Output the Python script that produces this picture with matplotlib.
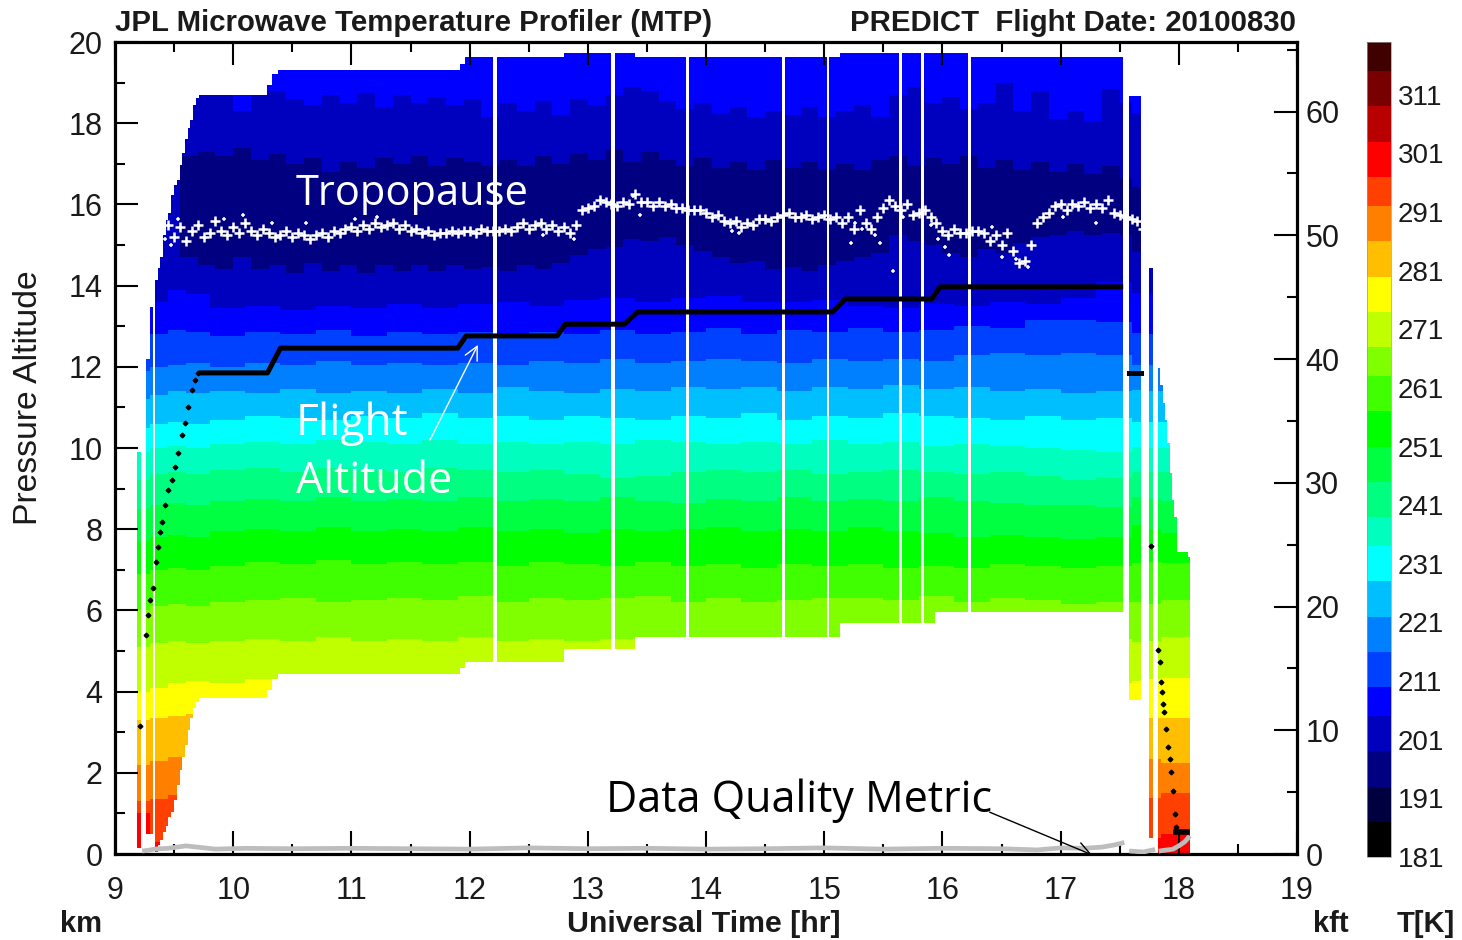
import numpy as np
import matplotlib
matplotlib.use("Agg")
import matplotlib.pyplot as plt
from matplotlib.colors import ListedColormap, BoundaryNorm
from matplotlib.ticker import MultipleLocator
from matplotlib.cm import ScalarMappable

W, H = 1462, 940

# colour scale, coldest first
t_edges = [181, 187, 193, 199, 205, 210, 216, 222, 228, 234, 239, 245, 251, 257,
           263, 268, 274, 280, 286, 292, 297, 303, 309, 315, 320]
t_colors = ["#000000", "#000040", "#000080", "#0000bf", "#0000ff", "#0040ff", "#0080ff", "#00bfff",
            "#00ffff", "#00ffbf", "#00ff80", "#00ff40", "#00ff00", "#40ff00", "#80ff00", "#bfff00",
            "#ffff00", "#ffbf00", "#ff8000", "#ff4000", "#ff0000", "#b80000", "#780000", "#400000"]
t_ticks = [181, 191, 201, 211, 221, 231, 241, 251, 261, 271, 281, 291, 301, 311]

# colour band of each layer going up from the ground (index into t_colors)
layer_band = [20, 19, 18, 17, 16, 15, 14, 13, 12, 11, 10, 9, 8, 7, 6, 5, 4, 3, 2, 3, 4]

# altitude (km) of the boundaries between layers, read at these times
band_t = [9.2, 9.3, 9.45, 9.6, 9.8, 10.1, 10.4, 10.7, 11.0, 11.3, 11.6, 11.9, 12.2, 12.5, 12.8, 13.1, 13.4,
          13.7, 14.0, 14.3, 14.6, 14.9, 15.2, 15.5, 15.8, 16.1, 16.4, 16.7, 17.0, 17.3, 17.6, 17.75, 17.85]
b00 = [1.0, 0.3, 0.0, 0.0, 0.0, 0.0, 0.0, 0.0, 0.0, 0.0, 0.0, 0.0, 0.0, 0.0, 0.0, 0.0, 0.0,
       0.0, 0.0, 0.0, 0.0, 0.0, 0.0, 0.0, 0.0, 0.0, 0.0, 0.0, 0.0, 0.0, 0.5, 0.4, 0.5]
b01 = [1.3, 1.35, 1.45, 1.5, 1.45, 1.4, 1.4, 1.4, 1.4, 1.4, 1.4, 1.4, 1.4, 1.4, 1.4, 1.4, 1.4,
       1.4, 1.4, 1.4, 1.4, 1.4, 1.4, 1.4, 1.4, 1.4, 1.4, 1.4, 1.4, 1.4, 1.4, 1.38, 1.5]
b02 = [2.2, 2.3, 2.4, 2.45, 2.4, 2.4, 2.4, 2.4, 2.4, 2.4, 2.4, 2.4, 2.4, 2.4, 2.4, 2.4, 2.4,
       2.4, 2.4, 2.4, 2.4, 2.4, 2.4, 2.4, 2.4, 2.4, 2.4, 2.4, 2.4, 2.4, 2.3, 2.36, 2.24]
b03 = [3.3, 3.35, 3.4, 3.45, 3.4, 3.45, 3.4, 3.4, 3.4, 3.4, 3.4, 3.4, 3.4, 3.4, 3.4, 3.4, 3.4,
       3.4, 3.4, 3.4, 3.4, 3.4, 3.4, 3.4, 3.4, 3.4, 3.4, 3.4, 3.4, 3.4, 3.35, 3.35, 3.35]
b04 = [4.0, 4.1, 4.2, 4.25, 4.2, 4.3, 4.2, 4.2, 4.2, 4.2, 4.2, 4.2, 4.2, 4.2, 4.2, 4.2, 4.2,
       4.2, 4.2, 4.2, 4.2, 4.2, 4.2, 4.2, 4.2, 4.2, 4.2, 4.2, 4.2, 4.2, 4.24, 4.3, 4.33]
b05 = [5.1, 5.2, 5.25, 5.2, 5.25, 5.3, 5.25, 5.35, 5.25, 5.3, 5.25, 5.35, 5.25, 5.3, 5.25, 5.3, 5.25,
       5.3, 5.25, 5.3, 5.25, 5.3, 5.25, 5.3, 5.25, 5.3, 5.25, 5.3, 5.25, 5.3, 5.22, 5.25, 5.34]
b06 = [6.0, 6.1, 6.15, 6.1, 6.2, 6.25, 6.3, 6.2, 6.25, 6.3, 6.25, 6.35, 6.2, 6.3, 6.25, 6.3, 6.35,
       6.2, 6.3, 6.2, 6.25, 6.3, 6.3, 6.25, 6.35, 6.2, 6.3, 6.25, 6.15, 6.2, 6.2, 6.15, 6.26]
b07 = [6.9, 7.0, 7.05, 7.0, 7.1, 7.2, 7.15, 7.25, 7.15, 7.2, 7.15, 7.2, 7.1, 7.2, 7.15, 7.1, 7.2,
       7.1, 7.15, 7.05, 7.15, 7.1, 7.15, 7.05, 7.1, 7.05, 7.15, 7.1, 7.05, 7.1, 7.17, 7.2, 7.17]
b08 = [7.7, 7.8, 7.85, 7.8, 7.95, 8.0, 7.95, 8.05, 7.95, 8.0, 7.95, 8.05, 7.95, 8.0, 7.9, 8.0, 7.95,
       8.0, 8.05, 7.95, 8.0, 7.95, 8.05, 7.95, 7.9, 7.8, 7.85, 7.8, 7.75, 7.8, 8.1, 8.0, 7.9]
b09 = [8.5, 8.6, 8.65, 8.6, 8.7, 8.75, 8.7, 8.8, 8.7, 8.75, 8.7, 8.8, 8.7, 8.75, 8.7, 8.8, 8.7,
       8.65, 8.75, 8.7, 8.8, 8.7, 8.75, 8.7, 8.8, 8.7, 8.65, 8.6, 8.6, 8.55, 8.79, 8.75, 8.7]
b10 = [9.2, 9.35, 9.4, 9.35, 9.45, 9.5, 9.4, 9.5, 9.45, 9.4, 9.5, 9.45, 9.4, 9.45, 9.35, 9.25, 9.3,
       9.4, 9.45, 9.4, 9.45, 9.35, 9.4, 9.45, 9.4, 9.35, 9.4, 9.3, 9.2, 9.25, 9.41, 9.4, 9.4]
b11 = [9.9, 10.0, 10.05, 10.0, 10.1, 10.15, 10.1, 10.2, 10.15, 10.1, 10.2, 10.1, 10.15, 10.1, 10.15, 10.1, 10.2,
       10.15, 10.1, 10.15, 10.1, 10.2, 10.1, 10.15, 10.05, 10.1, 10.05, 10.0, 9.95, 9.9, 10.02, 10.0, 10.0]
b12 = [10.5, 10.6, 10.65, 10.6, 10.7, 10.8, 10.75, 10.7, 10.8, 10.75, 10.85, 10.75, 10.8, 10.7, 10.8, 10.75, 10.7,
       10.8, 10.75, 10.85, 10.7, 10.8, 10.75, 10.85, 10.8, 10.75, 10.7, 10.8, 10.7, 10.75, 10.64, 10.65, 10.65]
b13 = [11.2, 11.3, 11.4, 11.35, 11.4, 11.35, 11.45, 11.35, 11.4, 11.35, 11.45, 11.35, 11.5, 11.4, 11.35, 11.45, 11.4,
       11.5, 11.45, 11.5, 11.4, 11.5, 11.45, 11.55, 11.45, 11.5, 11.4, 11.45, 11.35, 11.4, 11.43, 11.4, 11.4]
b14 = [11.9, 12.0, 12.05, 12.1, 12.0, 12.1, 12.05, 12.15, 12.05, 12.1, 12.05, 12.1, 12.05, 12.15, 12.1, 12.2, 12.1,
       12.15, 12.2, 12.15, 12.1, 12.2, 12.15, 12.2, 12.15, 12.3, 12.35, 12.3, 12.35, 12.3, 12.04, 12.05, 12.05]
b15 = [12.6, 12.8, 12.9, 12.85, 12.75, 12.85, 12.8, 12.9, 12.75, 12.85, 12.8, 12.85, 12.75, 12.85, 12.8, 12.9, 12.8,
       12.85, 12.95, 12.8, 12.9, 12.85, 12.95, 12.85, 12.9, 13.0, 12.95, 13.15, 13.15, 13.1, 12.83, 12.8, 12.8]
b16 = [13.2, 13.6, 13.9, 13.8, 13.45, 13.5, 13.4, 13.5, 13.45, 13.55, 13.45, 13.55, 13.6, 13.5, 13.65, 13.7, 13.6,
       13.7, 13.75, 13.6, 13.6, 13.65, 13.5, 13.45, 13.55, 13.5, 13.6, 13.55, 13.7, 14.1, 13.82, 13.8, 13.7]
low_edges = [b00, b01, b02, b03, b04, b05, b06, b07, b08, b09, b10, b11, b12, b13, b14, b15, b16]

# the upper three boundaries are more jagged, so read at more times
fine_t = [9.2, 9.4, 9.55, 9.7, 9.85, 10.0, 10.15, 10.3, 10.45, 10.6, 10.75, 10.9, 11.05, 11.2, 11.35, 11.5, 11.65,
          11.8, 11.95, 12.1, 12.25, 12.4, 12.55, 12.7, 12.85, 13.0, 13.15, 13.3, 13.45, 13.6, 13.75, 13.9, 14.05,
          14.2, 14.35, 14.5, 14.65, 14.8, 14.95, 15.1, 15.25, 15.4, 15.55, 15.7, 15.85, 16.0, 16.15, 16.3, 16.45,
          16.6, 16.75, 16.9, 17.05, 17.2, 17.35, 17.5, 17.6]
b17 = [15.0, 15.0, 14.7, 14.5, 14.4, 14.7, 14.4, 14.5, 14.3, 14.55, 14.35, 14.5, 14.3, 14.5, 14.35, 14.5, 14.35,
       14.5, 14.4, 14.45, 14.35, 14.5, 14.4, 14.55, 14.75, 14.9, 14.95, 15.15, 15.1, 15.2, 15.0, 14.85, 14.7,
       14.55, 14.6, 14.4, 14.45, 14.35, 14.5, 14.6, 14.7, 14.8, 15.25, 15.1, 15.0, 14.8, 14.7, 14.9, 14.8,
       15.05, 15.2, 15.25, 15.35, 15.25, 15.3, 15.25, 14.83]
b18 = [15.0, 15.0, 17.2, 17.3, 17.2, 17.4, 17.1, 17.25, 17.0, 17.15, 16.8, 17.05, 16.9, 17.15, 17.0, 17.2, 16.95,
       17.15, 17.05, 16.95, 17.1, 16.95, 17.2, 17.0, 17.25, 17.1, 17.35, 17.05, 17.3, 17.1, 16.95, 17.15, 16.9,
       17.05, 16.85, 17.1, 16.9, 17.05, 16.85, 17.0, 16.85, 17.1, 17.2, 16.95, 17.15, 17.0, 17.2, 16.9, 17.1,
       16.85, 17.05, 16.8, 17.0, 16.75, 16.95, 16.65, 16.43]
b19 = [19.5, 19.5, 19.5, 18.8, 18.8, 18.3, 18.8, 18.8, 18.6, 18.45, 18.7, 18.5, 18.75, 18.4, 18.7, 18.5, 18.65,
       18.45, 18.6, 18.15, 18.5, 18.3, 18.55, 18.2, 18.6, 18.45, 18.7, 18.9, 18.8, 18.55, 18.35, 18.5, 18.25,
       18.4, 18.15, 18.3, 18.2, 18.4, 18.15, 18.3, 18.45, 18.15, 18.7, 18.9, 18.5, 18.65, 18.35, 18.5, 19.0,
       18.3, 18.8, 18.1, 18.3, 18.05, 18.85, 18.5, 18.25]
high_edges = [b17, b18, b19]

# top and bottom of the retrieved profile, each entry holds until the next time (nan = no data)
col_t = [9.19, 9.22, 9.265, 9.295, 9.32, 9.338, 9.364, 9.381, 9.406, 9.431, 9.448, 9.474, 9.499, 9.525, 9.55,
         9.567, 9.592, 9.618, 9.635, 9.66, 9.685, 9.711, 10.286, 10.33, 10.38, 11.92, 11.96, 12.2, 12.23, 12.8,
         13.2, 13.23, 13.4, 13.83, 13.855, 14.64, 14.665, 15.02, 15.04, 15.13, 15.63, 15.655, 15.82, 15.845, 15.94,
         16.22, 16.245, 17.528, 17.579, 17.68, 17.748, 17.782, 17.824, 17.84, 17.866, 17.883, 17.9, 17.925, 17.94,
         17.96, 17.985, 18.078, 18.095]
col_top = [9.9, np.nan, 12.2, 13.47, np.nan, 14.14, 14.43, 14.7, 15.25, 15.62, 15.79, 16.23, 16.48, 16.6, 16.97,
           17.27, 17.59, 17.88, 18.08, 18.45, 18.62, 18.69, 18.94, 19.19, 19.29, 19.46, 19.63, np.nan, 19.63, 19.73,
           np.nan, 19.73, 19.63, np.nan, 19.63, np.nan, 19.63, np.nan, 19.63, 19.73, np.nan, 19.73, np.nan, 19.73, 19.73,
           np.nan, 19.63, np.nan, 18.67, np.nan, 14.43, np.nan, 11.97, 11.55, 11.11, 10.69, 10.12, 9.38, 8.72,
           8.3, 7.44, 7.32, np.nan]
col_bot = [0.15, np.nan, 0.5, 0.5, np.nan, 0.05, 0.22, 0.34, 0.54, 0.71, 0.89, 1.03, 1.33, 1.7, 2.07,
           2.39, 2.68, 3.05, 3.35, 3.6, 3.74, 3.84, 4.04, 4.29, 4.43, 4.58, 4.73, np.nan, 4.73, 5.05,
           np.nan, 5.05, 5.34, np.nan, 5.34, np.nan, 5.34, np.nan, 5.34, 5.69, np.nan, 5.69, np.nan, 5.69, 5.96,
           np.nan, 5.96, np.nan, 3.79, np.nan, 0.39, np.nan, 0.03, 0.03, 0.03, 0.03, 0.03, 0.03, 0.03,
           0.03, 0.03, 0.03, np.nan]

# flight altitude
flight_t = [9.71, 10.29, 10.4, 11.9, 11.97, 12.74, 12.81, 13.31, 13.42, 15.07, 15.18, 15.91, 15.98, 17.53]
flight_km = [11.85, 11.85, 12.46, 12.46, 12.76, 12.76, 13.05, 13.05, 13.35, 13.35, 13.67, 13.67, 13.97, 13.97]
climb_t = [9.21, 9.262, 9.28, 9.296, 9.321, 9.347, 9.364, 9.381, 9.398, 9.423, 9.448, 9.482, 9.508, 9.533, 9.567,
           9.592, 9.618, 9.651, 9.677, 9.702, 17.765, 17.82, 17.84, 17.85, 17.86, 17.87, 17.875, 17.89, 17.91,
           17.925, 17.935, 17.95, 17.97, 17.975]
climb_km = [3.15, 5.39, 5.89, 6.26, 6.55, 7.19, 7.56, 7.93, 8.18, 8.6, 8.97, 9.21, 9.53, 9.88, 10.32,
            10.62, 11.01, 11.43, 11.67, 11.85, 7.59, 5.02, 4.73, 4.24, 3.99, 3.69, 3.5, 3.08, 2.64,
            2.34, 2.02, 1.55, 0.99, 0.67]
hold1_t = [17.58, 17.68]
hold1_km = [11.85, 11.85]
hold2_t = [17.98, 18.07]
hold2_km = [0.54, 0.54]

# tropopause
trop_t = [9.45, 9.5, 9.55, 9.6, 9.65, 9.7, 9.75, 9.8, 9.85, 9.9, 9.95,
          10.0, 10.05, 10.1, 10.15, 10.2, 10.25, 10.3, 10.35, 10.4, 10.45,
          10.5, 10.55, 10.6, 10.65, 10.7, 10.75, 10.8, 10.85, 10.9, 10.95,
          11.0, 11.05, 11.1, 11.15, 11.2, 11.25, 11.3, 11.35, 11.4, 11.45,
          11.5, 11.55, 11.6, 11.65, 11.7, 11.75, 11.8, 11.85, 11.9, 11.95,
          12.0, 12.05, 12.1, 12.15, 12.2, 12.25, 12.3, 12.35, 12.4, 12.45,
          12.5, 12.55, 12.6, 12.65, 12.7, 12.75, 12.8, 12.85, 12.9, 12.95,
          13.0, 13.05, 13.1, 13.15, 13.2, 13.25, 13.3, 13.35, 13.4, 13.45,
          13.5, 13.55, 13.6, 13.65, 13.7, 13.75, 13.8, 13.85, 13.9, 13.95,
          14.0, 14.05, 14.1, 14.15, 14.2, 14.25, 14.3, 14.35, 14.4, 14.45,
          14.5, 14.55, 14.6, 14.65, 14.7, 14.75, 14.8, 14.85, 14.9, 14.95,
          15.0, 15.05, 15.1, 15.15, 15.2, 15.25, 15.3, 15.35, 15.4, 15.45,
          15.5, 15.55, 15.6, 15.65, 15.7, 15.75, 15.8, 15.85, 15.9, 15.95,
          16.0, 16.05, 16.1, 16.15, 16.2, 16.25, 16.3, 16.35, 16.4, 16.45,
          16.5, 16.55, 16.6, 16.65, 16.7, 16.75, 16.8, 16.85, 16.9, 16.95,
          17.0, 17.05, 17.1, 17.15, 17.2, 17.25, 17.3, 17.35, 17.4, 17.45,
          17.5, 17.55, 17.6, 17.65, 17.7]
trop_km = [15.5, 15.2, 15.45, 15.1, 15.35, 15.5, 15.2, 15.3, 15.6, 15.35, 15.25,
           15.45, 15.3, 15.55, 15.35, 15.25, 15.4, 15.3, 15.2, 15.25, 15.35,
           15.2, 15.3, 15.25, 15.15, 15.25, 15.3, 15.2, 15.35, 15.3, 15.4,
           15.45, 15.35, 15.5, 15.4, 15.55, 15.45, 15.5, 15.55, 15.4, 15.5,
           15.35, 15.4, 15.3, 15.35, 15.25, 15.3, 15.3, 15.35, 15.3, 15.35,
           15.35, 15.3, 15.4, 15.35, 15.35, 15.35, 15.4, 15.35, 15.45, 15.55,
           15.4, 15.5, 15.55, 15.4, 15.5, 15.35, 15.45, 15.3, 15.5, 15.85,
           15.9, 15.95, 16.1, 16.05, 16.0, 15.95, 16.05, 16.0, 16.25, 16.05,
           16.05, 15.95, 16.05, 15.95, 16.0, 15.9, 15.9, 15.85, 15.85, 15.85,
           15.8, 15.7, 15.75, 15.6, 15.55, 15.6, 15.45, 15.55, 15.5, 15.65,
           15.65, 15.6, 15.7, 15.75, 15.8, 15.7, 15.7, 15.75, 15.65, 15.7,
           15.75, 15.65, 15.7, 15.55, 15.7, 15.4, 15.85, 15.55, 15.4, 15.7,
           15.9, 16.1, 15.95, 15.85, 16.0, 15.75, 15.8, 15.85, 15.7, 15.55,
           15.35, 15.25, 15.4, 15.3, 15.3, 15.35, 15.35, 15.3, 15.1, 15.25,
           15.0, 15.3, 14.85, 14.55, 14.6, 15.0, 15.55, 15.7, 15.8, 15.95,
           16.0, 15.85, 16.0, 15.95, 16.05, 15.9, 16.0, 15.9, 16.1, 15.8,
           15.75, 15.7, 15.65, 15.6, 15.4]
stray_t = [9.42, 9.47, 9.53, 9.92, 10.08, 10.33, 10.62, 11.03, 11.22, 12.62, 12.88, 13.38, 13.44, 14.22, 14.28,
           15.23, 15.26, 15.32, 15.43, 15.47, 15.58, 15.67, 15.9, 15.96, 16.02, 16.06, 16.42, 16.5, 16.62, 16.72, 17.02, 17.3]
stray_km = [15.15, 15.0, 15.65, 15.65, 15.75, 15.55, 15.55, 15.65, 15.7, 15.25, 15.15, 16.2, 15.75, 15.35, 15.3,
            15.05, 15.55, 15.4, 15.25, 15.05, 14.36, 15.7, 15.5, 15.15, 14.95, 14.75, 15.45, 14.7, 14.65, 14.45, 15.7, 15.55]

# data quality metric
dq_t = [9.25, 9.3, 9.33, 9.45, 9.6, 9.85, 10.1, 10.5, 11.0, 11.5, 12.0, 12.5, 13.0, 13.5, 14.0, 14.5, 15.0, 15.5,
        16.0, 16.5, 16.8, 17.0, 17.2, 17.35, 17.45, 17.52, np.nan, 17.6, 17.7, 17.78, np.nan, 17.85, 17.95, 18.0, 18.05, 18.08]
dq_km = [0.08, 0.1, 0.12, 0.14, 0.2, 0.12, 0.14, 0.13, 0.14, 0.13, 0.12, 0.15, 0.13, 0.14, 0.12, 0.13, 0.15, 0.12,
         0.14, 0.13, 0.1, 0.15, 0.14, 0.17, 0.22, 0.27, np.nan, 0.07, 0.05, 0.1, np.nan, 0.08, 0.12, 0.2, 0.3, 0.4]

cmap = ListedColormap(t_colors)
norm = BoundaryNorm(t_edges, cmap.N)

# build the temperature field from the layer boundaries
edges_x = np.unique(np.concatenate([col_t, band_t, fine_t]))
edges_x = edges_x[(edges_x >= col_t[0]) & (edges_x <= col_t[-1])]
edges_y = np.linspace(0, 20, 801)
mids_x = (edges_x[:-1] + edges_x[1:]) / 2
mids_y = (edges_y[:-1] + edges_y[1:]) / 2
t_mid = (np.array(t_edges[:-1]) + np.array(t_edges[1:])) / 2
field = np.full((len(mids_y), len(mids_x)), np.nan)
for j, t in enumerate(mids_x):
    c = np.searchsorted(col_t, t, side="right") - 1
    if np.isnan(col_top[c]):
        continue
    k1 = max(np.searchsorted(band_t, t, side="right") - 1, 0)
    k2 = max(np.searchsorted(fine_t, t, side="right") - 1, 0)
    bounds = [e[k1] for e in low_edges] + [e[k2] for e in high_edges]
    layer = np.searchsorted(bounds, mids_y)
    vals = t_mid[np.array(layer_band)[layer]]
    vals[(mids_y > col_top[c]) | (mids_y < col_bot[c])] = np.nan
    field[:, j] = vals

sans = ["Liberation Sans", "DejaVu Sans"]
plt.rcParams["font.family"] = sans

fig = plt.figure(figsize=(W / 100, H / 100), dpi=100)
ax = fig.add_axes([115 / W, 1 - 854 / H, 1182 / W, 812 / H])
ax.pcolormesh(edges_x, edges_y, np.ma.masked_invalid(field), cmap=cmap, norm=norm,
              shading="flat", antialiased=False, linewidth=0, rasterized=True)

ax.plot(flight_t, flight_km, color="k", lw=3.6, solid_capstyle="butt", zorder=4)
ax.plot(hold1_t, hold1_km, color="k", lw=3.6, zorder=4)
ax.plot(hold2_t, hold2_km, color="k", lw=4.0, zorder=4)
ax.plot(climb_t, climb_km, ls="none", marker="D", ms=2.4, color="k", zorder=4)
ax.plot(dq_t, dq_km, color="#bdbdbd", lw=3.4, zorder=3)
ax.plot(trop_t, trop_km, ls="none", marker="+", ms=6.5, mew=1.8, color="white", zorder=4)
ax.plot(stray_t, stray_km, ls="none", marker="+", ms=3.5, mew=1.1, color="white", zorder=4)

ax.set_xlim(9, 19)
ax.set_ylim(0, 20)
ax.xaxis.set_major_locator(MultipleLocator(1))
ax.xaxis.set_minor_locator(MultipleLocator(0.5))
ax.yaxis.set_major_locator(MultipleLocator(2))
ax.yaxis.set_minor_locator(MultipleLocator(1))
ax.tick_params(which="major", direction="in", length=16.5, width=1.5, top=True, labelsize=22, colors="k")
ax.tick_params(which="minor", direction="in", length=7.5, width=1.5, top=True)
ax.tick_params(axis="x", which="major", pad=16, labelcolor="#1a1a1a")
ax.tick_params(axis="y", which="major", pad=9, labelcolor="#1a1a1a")
for s in ax.spines.values():
    s.set_linewidth(2.3)

kft = ax.twinx()
kft.set_ylim(0, 20 * 3.28084)
kft.yaxis.set_major_locator(MultipleLocator(10))
kft.yaxis.set_minor_locator(MultipleLocator(5))
kft.tick_params(which="major", direction="in", length=16.5, width=1.5, labelsize=22, pad=6, labelcolor="#1a1a1a")
kft.tick_params(which="minor", direction="in", length=7.5, width=1.5)
for s in kft.spines.values():
    s.set_visible(False)

# colour bar
cax = fig.add_axes([1367 / W, 1 - 857 / H, 24 / W, 815 / H])
cb = fig.colorbar(ScalarMappable(norm=norm, cmap=cmap), cax=cax, boundaries=t_edges,
                  spacing="proportional", ticks=t_ticks)
cb.minorticks_off()
cb.outline.set_linewidth(0.5)
cb.outline.set_edgecolor("#999999")
cax.tick_params(length=0, pad=5, labelsize=20, labelcolor="#1a1a1a")

# titles and axis words
fig.text(115 / W, 1 - 23 / H, "JPL Microwave Temperature Profiler (MTP)", fontsize=21.2, fontweight="bold",
         va="center", ha="left", color="#1a1a1a")
fig.text(1296 / W, 1 - 23 / H, "PREDICT  Flight Date: 20100830", fontsize=21.2, fontweight="bold",
         va="center", ha="right", color="#1a1a1a")
fig.text(29 / W, 1 - 398 / H, "Pressure Altitude", fontsize=24.3, rotation=90, va="center", ha="center", color="#1a1a1a")
fig.text(704 / W, 1 - 924 / H, "Universal Time [hr]", fontsize=21.8, fontweight="bold", va="center", ha="center", color="#1a1a1a")
fig.text(81 / W, 1 - 924 / H, "km", fontsize=21, fontweight="bold", va="center", ha="center", color="#1a1a1a")
fig.text(1331 / W, 1 - 924 / H, "kft", fontsize=21, fontweight="bold", va="center", ha="center", color="#1a1a1a")
fig.text(1426 / W, 1 - 924 / H, "T[K]", fontsize=21, fontweight="bold", va="center", ha="center", color="#1a1a1a")

# hand added notes
note = ["Open Sans", "DejaVu Sans"]
ax.text(10.53, 16.25, "Tropopause", color="white", fontsize=30, family=note, va="center", ha="left", zorder=6)
ax.text(10.53, 10.6, "Flight", color="white", fontsize=32, family=note, va="center", ha="left", zorder=6)
ax.text(10.53, 9.17, "Altitude", color="white", fontsize=31, family=note, va="center", ha="left", zorder=6)
ax.text(13.15, 1.32, "Data Quality Metric", color="k", fontsize=31, family=note, va="center", ha="left", zorder=6)
ax.annotate("", xy=(12.07, 12.54), xytext=(11.665, 10.2),
            arrowprops=dict(arrowstyle="->", color="white", lw=1.0, mutation_scale=24, shrinkA=0, shrinkB=0), zorder=6)
ax.annotate("", xy=(17.265, -0.02), xytext=(16.4, 1.03), annotation_clip=False,
            arrowprops=dict(arrowstyle="->", color="k", lw=1.0, mutation_scale=24, shrinkA=0, shrinkB=0), zorder=6)

fig.savefig("out.png", dpi=100)
